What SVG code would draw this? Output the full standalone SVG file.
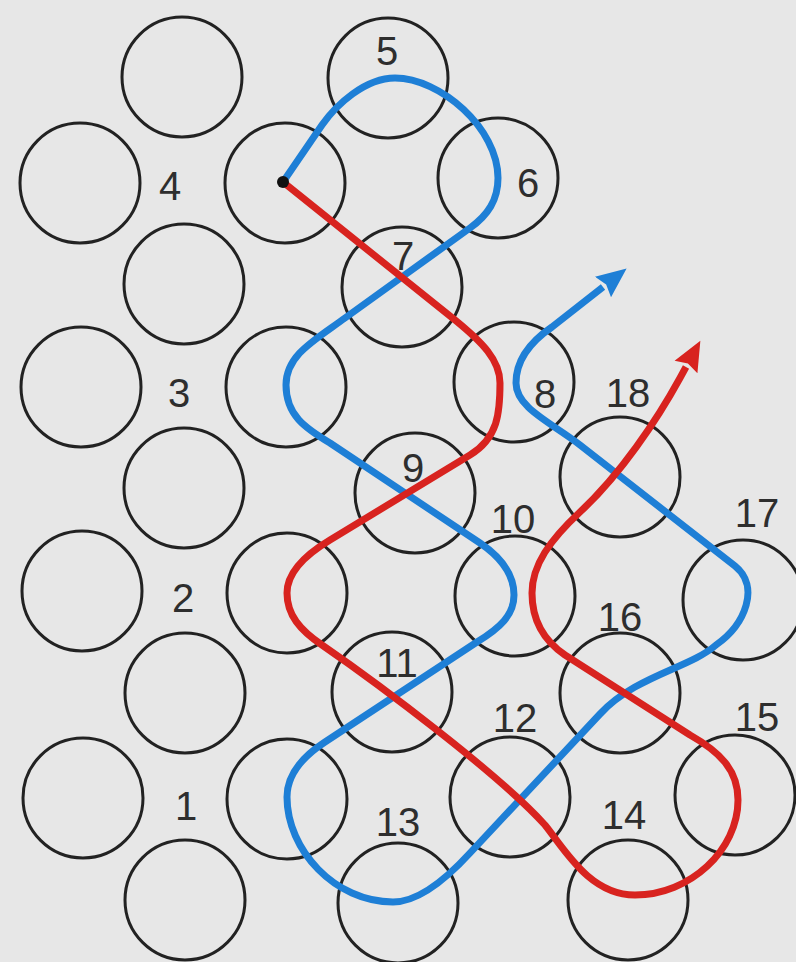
<svg xmlns="http://www.w3.org/2000/svg" width="796" height="962" viewBox="0 0 796 962">
<defs>
<style>
.c{fill:none;stroke:#222;stroke-width:3}
.t{font-family:"Liberation Sans",Arial,sans-serif;font-size:40px;fill:#2e2e2e;text-anchor:middle}
.blue{fill:none;stroke:#1e7fd6;stroke-width:7;stroke-linejoin:round}
.red{fill:none;stroke:#d8231f;stroke-width:7;stroke-linejoin:round}
</style>
<marker id="ab" viewBox="0 -15 32 30" refX="0" refY="0" markerWidth="32" markerHeight="30" markerUnits="userSpaceOnUse" orient="auto"><path d="M0,-13 L30,0 L0,13 L4,0 z" fill="#1e7fd6"/></marker>
<marker id="ar" viewBox="0 -15 32 30" refX="0" refY="0" markerWidth="32" markerHeight="30" markerUnits="userSpaceOnUse" orient="auto"><path d="M0,-13 L30,0 L0,13 L4,0 z" fill="#d8231f"/></marker>
</defs>
<rect width="796" height="962" fill="#e7e7e7"/>
<g id="grid">
<g id="a1"><circle class="c" cx="80" cy="183" r="60"/></g>
<g id="a2"><circle class="c" cx="81" cy="387" r="60"/></g>
<g id="a3"><circle class="c" cx="82" cy="591" r="60"/></g>
<g id="a4"><circle class="c" cx="83" cy="798" r="60"/></g>
<g id="b1"><circle class="c" cx="182" cy="77" r="60"/></g>
<g id="b2"><circle class="c" cx="184" cy="284" r="60"/></g>
<g id="b3"><circle class="c" cx="184" cy="488" r="60"/></g>
<g id="b4"><circle class="c" cx="185" cy="693" r="60"/></g>
<g id="b5"><circle class="c" cx="185" cy="900" r="60"/></g>
<g id="c1"><circle class="c" cx="285" cy="183" r="60"/></g>
<g id="c2"><circle class="c" cx="286" cy="387" r="60"/></g>
<g id="c3"><circle class="c" cx="287" cy="593" r="60"/></g>
<g id="c4"><circle class="c" cx="287" cy="799" r="60"/></g>
</g>
<g id="rowlabels">
<text class="t" x="170" y="200">4</text>
<text class="t" x="179" y="407">3</text>
<text class="t" x="183" y="612">2</text>
<text class="t" x="186" y="820">1</text>
</g>
<g id="n5"><circle class="c" cx="388" cy="78" r="60"/><text class="t" x="387" y="65">5</text></g>
<g id="n6"><circle class="c" cx="498" cy="178" r="60"/><text class="t" x="528" y="197">6</text></g>
<g id="n7"><circle class="c" cx="402" cy="287" r="60"/><text class="t" x="403" y="270">7</text></g>
<g id="n8"><circle class="c" cx="514" cy="382" r="60"/><text class="t" x="545" y="408">8</text></g>
<g id="n9"><circle class="c" cx="415" cy="493" r="60"/><text class="t" x="413" y="482">9</text></g>
<g id="n10"><circle class="c" cx="515" cy="596" r="60"/><text class="t" x="513" y="533">10</text></g>
<g id="n11"><circle class="c" cx="392" cy="692" r="60"/><text class="t" x="397" y="677">11</text></g>
<g id="n12"><circle class="c" cx="510" cy="797" r="60"/><text class="t" x="515" y="732">12</text></g>
<g id="n13"><circle class="c" cx="398" cy="903" r="60"/><text class="t" x="398" y="836">13</text></g>
<g id="n14"><circle class="c" cx="628" cy="900" r="60"/><text class="t" x="624" y="829">14</text></g>
<g id="n15"><circle class="c" cx="735" cy="795" r="60"/><text class="t" x="757" y="731">15</text></g>
<g id="n16"><circle class="c" cx="620" cy="693" r="60"/><text class="t" x="620" y="631">16</text></g>
<g id="n17"><circle class="c" cx="743" cy="600" r="60"/><text class="t" x="757" y="527">17</text></g>
<g id="n18"><circle class="c" cx="620" cy="477" r="60"/><text class="t" x="628" y="407">18</text></g>
<g id="connectors">
<path class="blue" marker-end="url(#ab)" d="M283,182 L322,125 C336,105 365,78 395,78 C440,78 498,128 498,178 C498,200 488,215 470,228 L345,318 C315,340 286,355 286,385 C286,415 305,428 330,443 L480,543 C502,558 514,575 514,595 C514,615 500,628 477,642 L325,742 C302,757 287,775 287,797 C287,850 335,902 393,902 C420,902 448,877 470,853 L600,714 C635,676 690,668 716,645 C746,624 760,586 735,566 L580,445 C552,423 516,408 516,383 C516,360 530,342 552,327 L603,287"/>
<path class="red" marker-end="url(#ar)" d="M283,182 L455,320 C482,342 500,360 500,383 C500,413 498,438 470,455 L330,540 C305,555 287,572 287,593 C287,615 300,630 322,645 C380,685 500,775 545,825 C565,850 590,895 635,895 C690,895 738,850 738,800 C738,770 720,752 690,735 L565,655 C540,638 532,615 532,593 C532,565 550,540 580,512 C620,475 657,420 680,378 L686,367"/>
<circle id="start" cx="283" cy="182" r="6" fill="#111"/>
</g>
</svg>
